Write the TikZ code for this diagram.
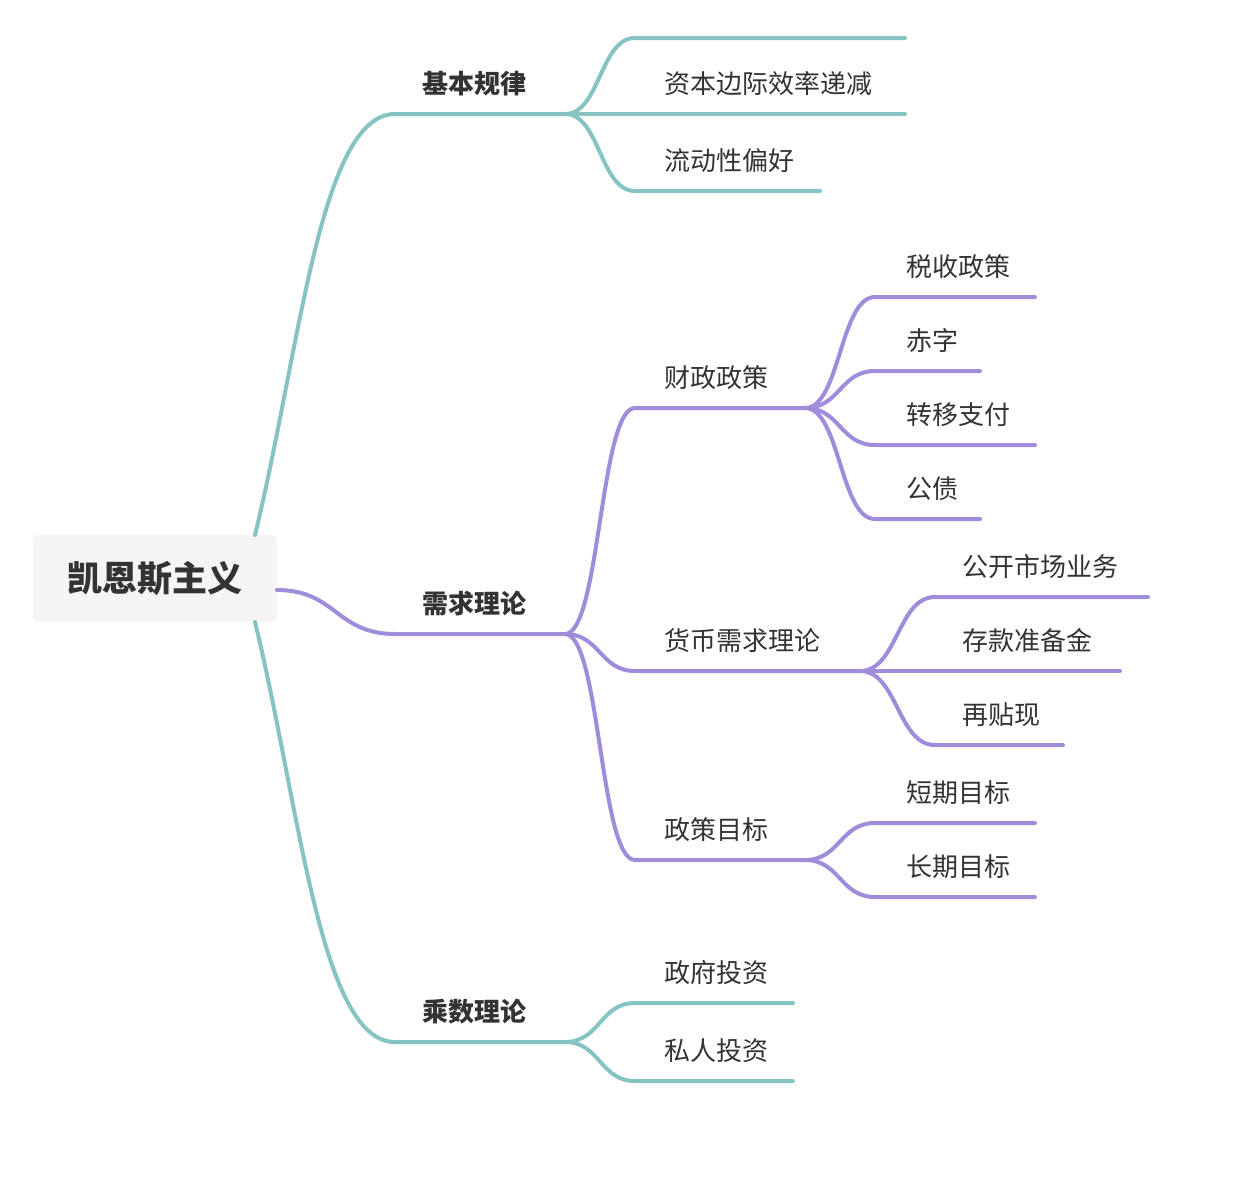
\documentclass[tikz,border=0pt]{standalone}
\usepackage{fontspec}
\setmainfont{Noto Sans CJK SC}
\definecolor{teal1}{HTML}{86C3C3}
\definecolor{purp}{HTML}{9F8CDA}
\definecolor{txt}{HTML}{333333}
\begin{document}
\begin{tikzpicture}[x=1pt,y=-1pt,
  ln/.style={line width=4pt,line cap=round},
  lab/.style={anchor=west,inner sep=0pt,text=txt,font=\fontsize{26}{30}\selectfont},
  lab1/.style={lab,font=\fontsize{26}{30}\selectfont\bfseries}]
\useasboundingbox (0,0) rectangle (1252,1184);
% root
\node[fill=black!4,rounded corners=6pt,minimum width=244pt,minimum height=87pt,inner sep=0pt,text=txt,font=\fontsize{35}{40}\selectfont\bfseries] (root) at (155,578.5) {凯恩斯主义};
% branch macro
\newcommand\br[6]{\draw[ln,#6] (#1,#2) .. controls ({(#1+#3)/2},#2) and ({(#1+#3)/2},#4) .. (#3,#4) -- (#5,#4);}
% level 1 teal
\draw[ln,teal1] (255,535) .. controls (300,350) and (320,114) .. (395,114) -- (565,114);
\draw[ln,teal1] (255,622) .. controls (300,807) and (320,1042) .. (395,1042) -- (565,1042);
\br{277}{590}{395}{634}{565}{purp}
\node[lab1] (l1) at (422,84) {基本规律};
\node[lab1] (l2) at (422,604) {需求理论};
\node[lab1] (l3) at (422,1012) {乘数理论};
% 基本规律 children
\br{565}{114}{635}{38}{905}{teal1}
\br{565}{114}{635}{114}{905}{teal1}
\br{565}{114}{635}{191}{820}{teal1}
\node[lab] (a2) at (664,84) {资本边际效率递减};
\node[lab] (a3) at (664,161) {流动性偏好};
% 需求理论 children
\br{565}{634}{635}{408}{805}{purp}
\br{565}{634}{635}{671}{860}{purp}
\br{565}{634}{635}{860}{805}{purp}
\node[lab] (b1) at (664,378) {财政政策};
\node[lab] (b2) at (664,641) {货币需求理论};
\node[lab] (b3) at (664,830) {政策目标};
% 财政政策
\br{805}{408}{875}{297}{1035}{purp}
\br{805}{408}{875}{371}{980}{purp}
\br{805}{408}{875}{445}{1035}{purp}
\br{805}{408}{875}{519}{980}{purp}
\node[lab] (c1) at (906,267) {税收政策};
\node[lab] (c2) at (906,341) {赤字};
\node[lab] (c3) at (906,415) {转移支付};
\node[lab] (c4) at (906,489) {公债};
% 货币
\br{860}{671}{935}{597}{1148}{purp}
\br{860}{671}{935}{671}{1120}{purp}
\br{860}{671}{935}{745}{1063}{purp}
\node[lab] (d1) at (962,567) {公开市场业务};
\node[lab] (d2) at (962,641) {存款准备金};
\node[lab] (d3) at (962,715) {再贴现};
% 政策目标
\br{805}{860}{875}{823}{1035}{purp}
\br{805}{860}{875}{897}{1035}{purp}
\node[lab] (e1) at (906,793) {短期目标};
\node[lab] (e2) at (906,867) {长期目标};
% 乘数
\br{565}{1042}{635}{1003}{793}{teal1}
\br{565}{1042}{635}{1081}{793}{teal1}
\node[lab] (f1) at (664,973) {政府投资};
\node[lab] (f2) at (664,1051) {私人投资};
\end{tikzpicture}
\end{document}
